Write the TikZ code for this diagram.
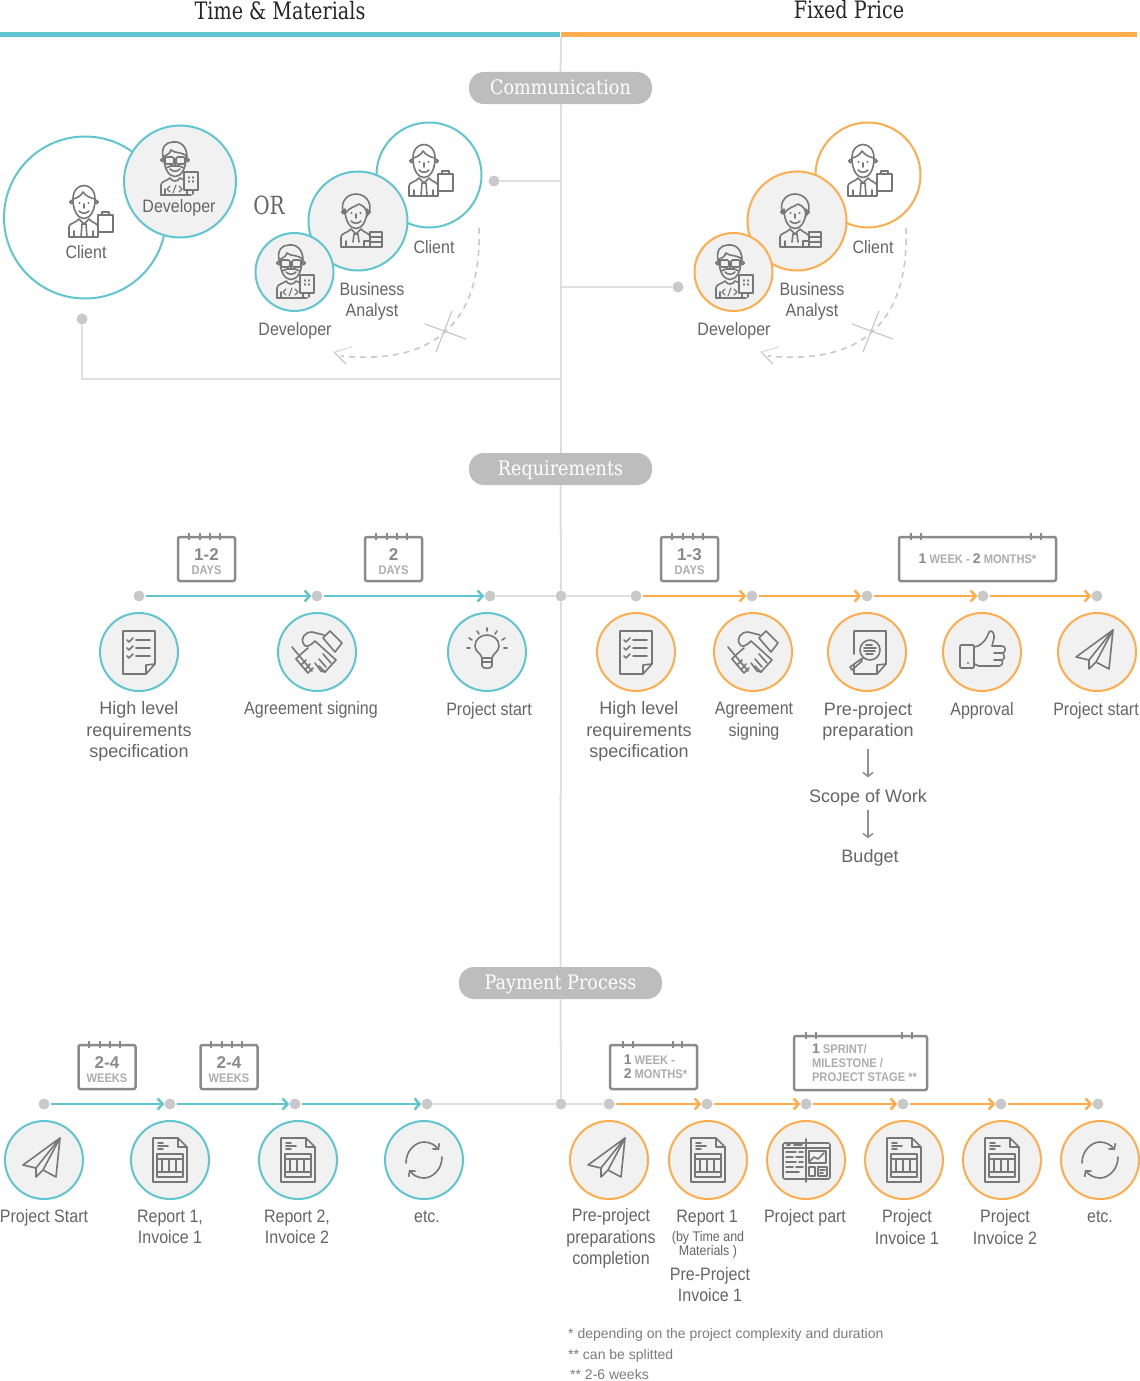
\documentclass[tikz,border=0pt]{standalone}
\usepackage{fontspec}
\setmainfont{Liberation Sans}
\newfontfamily\tightfont[FakeStretch=.89]{Liberation Sans}
\newfontfamily\slabfont[FakeStretch=.8]{DejaVu Serif}
\newfontfamily\pillfont[FakeStretch=.88]{DejaVu Serif}
\usetikzlibrary{arrows.meta, positioning, calc}

\definecolor{tealc}{HTML}{5FC5D0}
\definecolor{orangec}{HTML}{FFAC4D}
\definecolor{railgray}{HTML}{DEDEDE}
\definecolor{dotgray}{HTML}{C9C9C9}
\definecolor{pillgray}{HTML}{BDBDBD}
\definecolor{fillgray}{HTML}{F1F1F1}
\definecolor{txtgray}{HTML}{656565}
\definecolor{icongray}{HTML}{777777}
\definecolor{calgray}{HTML}{8A8A8A}
\definecolor{callight}{HTML}{ADADAD}

\tikzset{
    lbl/.style = {align=center, inner sep=0, yshift=-1.5pt, text=txtgray, font=\fontsize{18}{21.5}\selectfont},
    lbltight/.style = {lbl, font=\tightfont\fontsize{18}{21.5}\selectfont},
    smalltxt/.style = {lbl, font=\tightfont\fontsize{14}{14}\selectfont},
    note/.style = {anchor=west, inner sep=0, yshift=-1.5pt, text=txtgray!85, font=\fontsize{14}{16}\selectfont},
    heading/.style = {inner sep=0, text=black!85, font=\slabfont\fontsize{24}{24}\selectfont},
    pill/.style = {rounded corners=15pt, fill=pillgray, text=white, minimum height=32, inner sep=0,
        text height=16pt, text depth=3pt, font=\pillfont\fontsize{20}{20}\selectfont},
    dot/.style = {circle, fill=dotgray, inner sep=0, minimum size=11},
    rail/.style = {draw=railgray, line width=2pt},
    tealflow/.style = {draw=tealc, line width=2.5pt, shorten <=1pt, -{Straight Barb[length=5pt,width=11pt]}},
    orangeflow/.style = {draw=orangec, line width=2.5pt, shorten <=1pt, -{Straight Barb[length=5pt,width=11pt]}},
    downstep/.style = {draw=icongray!80, line width=1.6pt, -{Straight Barb[length=4pt,width=10pt]}},
    tcirc/.style = {circle, draw=tealc, line width=2pt, fill=fillgray, inner sep=0, minimum size=78},
    ocirc/.style = {circle, draw=orangec, line width=2pt, fill=fillgray, inner sep=0, minimum size=78},
    calbox/.style = {draw=calgray, line width=2.5pt, rounded corners=2pt, fill=white, inner sep=0,
        align=center, minimum width=57, minimum height=44, text=callight,
        font=\tightfont\bfseries\fontsize{12.5}{14}\selectfont},
    calring/.style = {draw=calgray, line width=2pt},
    iconline/.style = {draw=icongray, line width=1.6pt, line join=round, line cap=round},
    pics/faceline/.style = {code={
        \draw[iconline] (-11,-12) .. controls (-11,14) and (11,14) .. (11,-12);
        \draw[iconline] (-12.5,-9) circle (1.8) (12.5,-9) circle (1.8);
        \draw[iconline] (-5,0) .. controls (-2,3) and (2,3) .. (5,0);
        \draw[iconline] (0,-7) -- (0,-3);
    }},
    pics/torso/.style = {code={
        \draw[iconline] (-15,26) -- (-15,16) .. controls (-15,12) and (-8,12) .. (-5,8)
            -- (0,13) -- (5,8) .. controls (8,12) and (14,12) .. (14,16) -- (14,26) -- cycle;
        \draw[iconline] (-10,20) -- (-10,26) (9,20) -- (9,26);
    }},
    pics/clienticon/.style = {code={
        \pic {faceline};
        \pic {torso};
        \draw[iconline] (-11,-12) .. controls (-11,-30) and (11,-30) .. (11,-12)
            .. controls (6,-13) and (2,-15) .. (-1,-19) .. controls (-3,-15) and (-7,-13) .. (-11,-12);
        \fill[icongray] (-4.5,-8) circle (1.2) (4.5,-8) circle (1.2);
        \draw[iconline] (-2,13) -- (2,13) -- (3,26) (-3,26) -- (-2,13);
        \draw[iconline, fill=white] (14,4) rectangle (29,21);
        \draw[iconline] (18,4) -- (18,1) -- (25,1) -- (25,4);
    }},
    pics/devicon/.style = {code={
        \pic {faceline};
        \draw[iconline] (-14,26) -- (-14,16) .. controls (-14,12) and (-8,12) .. (-5,9)
            .. controls (-3,13) and (3,13) .. (5,9) .. controls (7,10) and (8,10) .. (9,11);
        \draw[iconline] (-14,26) -- (16,26) (-10,20) -- (-10,26);
        \draw[iconline] (-12,-12) .. controls (-14,-22) and (-9,-27) .. (-2,-27)
            .. controls (6,-28) and (12,-22) .. (12,-12) .. controls (8,-18) and (0,-15) .. (-4,-19)
            .. controls (-5,-15) and (-9,-14) .. (-12,-12);
        \draw[iconline, rounded corners=1.5pt] (-10,-12) rectangle (-1,-5) (1,-12) rectangle (10,-5);
        \draw[iconline] (-9,-1) -- (-4,-3) -- (4,-3) -- (9,-1);
        \draw[iconline, fill=fillgray] (9,3) rectangle (23,21);
        \draw[iconline] (12,21) -- (12,25) (18,21) -- (18,25) (14,8) -- (14,9) (18,8) -- (18,9) (14,12) -- (14,13) (18,12) -- (18,13);
        \draw[iconline, line width=1.1pt] (-5,17) -- (-8,20) -- (-5,23) (4,17) -- (7,20) -- (4,23) (-2,24) -- (1,16);
    }},
    pics/analysticon/.style = {code={
        \pic {faceline};
        \pic {torso};
        \draw[iconline] (-11,-7) .. controls (-17,-14) and (-12,-27) .. (0,-27)
            .. controls (12,-27) and (18,-14) .. (11,-5) .. controls (11,-12) and (8,-15) .. (3,-17)
            .. controls (-1,-14) and (-7,-14) .. (-11,-7);
        \fill[icongray] (-4.5,-8) circle (1.2) (4.5,-8) circle (1.2);
        \draw[iconline] (-2,13) -- (2,13) -- (3,21) (-3,21) -- (-2,13);
        \draw[iconline, fill=fillgray] (8,20) rectangle (14,26);
        \draw[iconline, fill=fillgray] (14,11) rectangle (26,26);
        \draw[iconline] (14,16) -- (26,16) (14,21) -- (26,21);
    }},
    pics/checkicon/.style = {code={
        \draw[iconline] (16,12) -- (16,-21) -- (-16,-21) -- (-16,22) -- (7,22) -- (16,12) -- (7,13) -- (7,22);
        \draw[iconline] (-12,-12) -- (-10,-10) -- (-6,-14) (-3,-12) -- (11,-12);
        \draw[iconline] (-12,-4) -- (-10,-2) -- (-6,-6) (-3,-4) -- (11,-4);
        \draw[iconline] (-12,4) -- (-10,6) -- (-6,2) (-3,4) -- (11,4);
    }},
    pics/shakeicon/.style = {code={
        \draw[iconline] (-25,-5) -- (-5,19);
        \draw[iconline] (13,-21) -- (25,-9) -- (18,0) -- (6,-14) -- cycle;
        \draw[iconline] (7,-17) -- (-5,-20) .. controls (-13,-20) and (-16,-13) .. (-14,-9)
            .. controls (-12,-4) and (-8,-5) .. (-2,-11) -- (19,8) -- (8,20) -- (2,14);
        \draw[iconline] (-21,7) -- (-16,2) -- (-9,-4);
        \draw[iconline] (-21,7) -- (-9,21) -- (-4,16);
        \draw[iconline] (-16,13) -- (-11,8) (-12,18) -- (-7,12);
        \draw[iconline] (6,2) -- (14,11) (2,7) -- (9,15) (-2,11) -- (4,19) -- (8,20);
    }},
    pics/bulbicon/.style = {code={
        \draw[iconline] (-5,6) .. controls (-6,1) and (-12,0) .. (-12,-6) .. controls (-12,-13) and (-6,-17) .. (0,-17)
            .. controls (6,-17) and (12,-13) .. (12,-6) .. controls (12,0) and (6,1) .. (5,6) -- cycle;
        \draw[iconline] (-5,6) -- (-5,14) .. controls (-5,17) and (5,17) .. (5,14) -- (5,6) (-5,10) -- (5,10);
        \draw[iconline] (0,-24) -- (0,-21) (-10,-21) -- (-8,-18) (10,-21) -- (8,-18)
            (-18,-14) -- (-15,-12) (18,-14) -- (15,-12) (-20,-4) -- (-17,-4) (20,-4) -- (17,-4);
    }},
    pics/planeicon/.style = {code={
        \draw[iconline] (16,-22) -- (-21,5) -- (-8,8) -- cycle;
        \draw[iconline] (-8,8) -- (-8,17) -- (-1,10) -- (12,17) -- (16,-22) -- (-1,10);
    }},
    pics/reporticon/.style = {code={
        \draw[iconline] (8,-22) -- (-17,-22) -- (-17,22) -- (17,22) -- (17,-13) -- (8,-22) -- (8,-13) -- (17,-13);
        \draw[iconline] (-12,-17) -- (-7,-17) (-12,-14) -- (-2,-14) (-12,-11) -- (-7,-11);
        \draw[iconline] (-13,-6) rectangle (13,17);
        \draw[iconline] (-13,-1) -- (13,-1) (-13,12) -- (13,12) (-8,-1) -- (-8,12) (-1,-1) -- (-1,12) (6,-1) -- (6,12);
    }},
    pics/webicon/.style = {code={
        \draw[iconline, rounded corners=2pt] (-23,-17) rectangle (24,19);
        \draw[iconline] (-23,-12) -- (24,-12) (0,-21) -- (0,22);
        \draw[iconline] (-19,-15) -- (-16,-15) (-12,-15) -- (-4,-15);
        \draw[iconline] (-20,-8) -- (-10,-8) (-7,-8) -- (-3,-8) (-20,-3) -- (-13,-3) (-10,-3) -- (-3,-3)
            (-20,2) -- (-10,2) (-7,2) -- (-3,2) (-20,7) -- (-13,7) (-10,7) -- (-3,7) (-20,12) -- (-7,12);
        \draw[iconline] (3,-9) rectangle (20,3);
        \draw[iconline] (4,1) -- (8,-3) -- (12,-1) -- (18,-7);
        \draw[iconline] (3,7) rectangle (9,16) (12,7) rectangle (21,16) (14,10) -- (19,10) (14,13) -- (17,13);
    }},
    pics/lensicon/.style = {code={
        \draw[iconline] (-13,2) -- (-13,-21) -- (19,-21) -- (19,12) -- (10,22) -- (-13,22) -- (-13,13);
        \draw[iconline] (19,12) -- (10,13) -- (10,22);
        \draw[iconline, fill=fillgray] (3,-2) circle (10);
        \draw[iconline] (-3,-4) -- (9,-4) (-3,-1) -- (8,-1) (-1,2) -- (6,2) (-1,-7) -- (5,-7);
        \draw[iconline] (-4,6) -- (-6,8) (-6,7) -- (-17,15) -- (-15,18) -- (-5,9);
    }},
    pics/thumbicon/.style = {code={
        \draw[iconline, rounded corners=1pt] (-22,-7) rectangle (-8,16);
        \fill[icongray] (-14,11) circle (1.1);
        \draw[iconline] (-8,-5) -- (-4,-6) .. controls (2,-9) and (5,-14) .. (7,-20) .. controls (9,-23) and (13,-19) .. (12,-14)
            -- (10,-6) -- (20,-6) .. controls (24,-6) and (24,0) .. (21,1) .. controls (23,3) and (23,7) .. (20,8)
            .. controls (21,11) and (20,14) .. (17,14) -- (-3,14) -- (-8,12);
        \draw[iconline] (12,1) -- (21,1) (12,8) -- (20,8);
    }},
    pics/cycleicon/.style = {code={
        \draw[iconline, -{Straight Barb[length=4pt,width=9pt]}] (-18,3) .. controls (-18,-10) and (-8,-18) .. (0,-18) .. controls (6,-18) and (11,-15) .. (15,-10);
        \draw[iconline, -{Straight Barb[length=4pt,width=9pt]}] (18,-3) .. controls (18,10) and (8,18) .. (0,18) .. controls (-6,18) and (-11,15) .. (-15,10);
    }},
    pics/droppedlink/.style = {code={
        \draw[draw=dotgray, line width=1.6pt, dash pattern=on 6pt off 5pt] (0,0) .. controls (2,60) and (-15,140) .. (-138,128);
        \draw[draw=dotgray, line width=1.2pt] (-27,83) -- (-43,124) (-54,96) -- (-13,111);
        \draw[draw=dotgray, line width=1.4pt, dash pattern=on 1pt off 1pt] (-145,124) -- (-127,119);
        \draw[draw=dotgray, line width=1.4pt] (-145,124) -- (-133,136);
    }},
}

\newcommand{\calrings}[5]{
    \draw[calring] ([xshift=#2pt,yshift=3pt]#1.north west) -- ++(0,7);
    \draw[calring] ([xshift=#3pt,yshift=3pt]#1.north west) -- ++(0,7);
    \draw[calring] ([xshift=#4pt,yshift=3pt]#1.north west) -- ++(0,7);
    \draw[calring] ([xshift=#5pt,yshift=3pt]#1.north west) -- ++(0,7);
}
\newcommand{\calnum}[1]{\rule{0pt}{18pt}{\color{calgray}\normalfont\bfseries\fontsize{17}{17}\selectfont #1}}
\newcommand{\calsmall}[1]{{\color{calgray}\normalfont\bfseries\fontsize{14}{14}\selectfont #1}}

\begin{document}
\begin{tikzpicture}[x=1pt, y=-1pt]
    \useasboundingbox (0,0) rectangle (1140,1381);

    \node[heading] (titletm) at (280,11) {Time \& Materials};
    \node[heading] (titlefp) at (849,10) {Fixed Price};

    \coordinate (barleft) at (0,34.5);
    \coordinate (barmid) at (559.5,34.5);
    \coordinate (barmidb) at (561,34.5);
    \coordinate (barright) at (1137,34.5);
    \coordinate (trunktop) at (561,37);
    \draw[tealc, line width=5pt] (barleft) -- (barmid);
    \draw[orangec, line width=5pt] (barmidb) -- (barright);

    \node[pill, minimum width=183] (pillcomm) at (560.5,88) {Communication};
    \node[pill, minimum width=183] (pillreq) at (560.5,469) {Requirements};
    \node[pill, minimum width=203] (pillpay) at (560.5,983) {Payment Process};

    \node[dot] (hubreq) at (561,596) {};
    \node[dot] (hubpay) at (561,1104) {};
    \draw[rail] (trunktop) -- (pillcomm);
    \draw[rail] (pillcomm) -- (pillreq);
    \draw[rail] (pillreq) -- (hubreq);
    \draw[rail] (hubreq) -- (pillpay);
    \draw[rail] (pillpay) -- (hubpay);

    % communication, left side
    \node[circle, draw=tealc, line width=2pt, fill=white, inner sep=0, minimum size=162] (tmclient) at (85,217.5) {};
    \node[circle, draw=tealc, line width=2pt, fill=fillgray, inner sep=0, minimum size=112] (tmdev) at (180,181.5) {};
    \node[circle, draw=tealc, line width=2pt, fill=white, inner sep=0, minimum size=105] (tmclientb) at (429,175) {};
    \node[circle, draw=tealc, line width=2pt, fill=fillgray, inner sep=0, minimum size=99] (tmba) at (358,221) {};
    \node[circle, draw=tealc, line width=2pt, fill=fillgray, inner sep=0, minimum size=78] (tmdevb) at (294.5,272) {};
    \pic at (84,211) {clienticon};
    \pic at (175,169) {devicon};
    \pic at (424,170) {clienticon};
    \pic at (356,221) {analysticon};
    \pic at (291,272) {devicon};
    \pic at (479,228) {droppedlink};

    \node[lbltight] (lblclient) at (86,250.5) {Client};
    \node[lbltight] (lbldev) at (179,206) {Developer};
    \node[inner sep=0, text=txtgray, font=\slabfont\fontsize{25}{25}\selectfont] (lblor) at (269,205) {OR};
    \node[lbltight] (lblclientb) at (434,245.5) {Client};
    \node[lbltight] (lblba) at (372,300) {Business\\Analyst};
    \node[lbltight] (lbldevb) at (295,329) {Developer};

    \node[dot] (dotclient) at (82,319) {};
    \node[dot] (dotteam) at (494,181) {};
    \coordinate (elbowclient) at (561,379);
    \coordinate (elbowteam) at (561,181);
    \draw[rail] (dotclient) |- (elbowclient);
    \draw[rail] (dotteam) -- (elbowteam);

    % communication, right side
    \node[circle, draw=orangec, line width=2pt, fill=white, inner sep=0, minimum size=105] (fpclient) at (868,175) {};
    \node[circle, draw=orangec, line width=2pt, fill=fillgray, inner sep=0, minimum size=99] (fpba) at (797,221) {};
    \node[circle, draw=orangec, line width=2pt, fill=fillgray, inner sep=0, minimum size=78] (fpdev) at (733.5,272) {};
    \pic at (863,170) {clienticon};
    \pic at (795,221) {analysticon};
    \pic at (730,272) {devicon};
    \pic at (906,228) {droppedlink};

    \node[lbltight] (lblclientc) at (873,245.5) {Client};
    \node[lbltight] (lblbab) at (812,300) {Business\\Analyst};
    \node[lbltight] (lbldevc) at (734,329) {Developer};

    \node[dot] (dotfp) at (678,287) {};
    \coordinate (elbowfp) at (561,287);
    \draw[rail] (dotfp) -- (elbowfp);

    % requirements, left side
    \node[dot] (reqa) at (139,596) {};
    \node[dot] (reqb) at (317,596) {};
    \node[dot] (reqc) at (490,596) {};
    \draw[tealflow] (reqa) -- (reqb);
    \draw[tealflow] (reqb) -- (reqc);
    \draw[rail] (reqc) -- (hubreq);

    \node[calbox] (calreqa) at (206.5,559) {\calnum{1-2}\\DAYS};
    \node[calbox] (calreqb) at (393.5,559) {\calnum{2}\\DAYS};
    \calrings{calreqa}{12}{23}{33}{43}
    \calrings{calreqb}{12}{23}{33}{43}

    \node[tcirc] (cirreqa) at (139,652) {};
    \node[tcirc] (cirreqb) at (317,652) {};
    \node[tcirc] (cirreqc) at (487,652) {};
    \pic at (139,652) {checkicon};
    \pic at (317,652) {shakeicon};
    \pic at (487,652) {bulbicon};

    \node[lbl] (lblhla) at (139,730) {High level\\requirements\\specification};
    \node[lbltight] (lblagra) at (311,708) {Agreement signing};
    \node[lbltight] (lblstarta) at (489,709) {Project start};

    % requirements, right side
    \node[dot] (reqd) at (636,596) {};
    \node[dot] (reqe) at (752,596) {};
    \node[dot] (reqf) at (867,596) {};
    \node[dot] (reqg) at (983,596) {};
    \node[dot] (reqh) at (1097,596) {};
    \draw[rail] (hubreq) -- (reqd);
    \draw[orangeflow] (reqd) -- (reqe);
    \draw[orangeflow] (reqe) -- (reqf);
    \draw[orangeflow] (reqf) -- (reqg);
    \draw[orangeflow] (reqg) -- (reqh);

    \node[calbox] (calreqc) at (689.5,559) {\calnum{1-3}\\DAYS};
    \node[calbox, minimum width=157] (calreqd) at (977.5,559) {\calsmall{1} WEEK - \calsmall{2} MONTHS*};
    \calrings{calreqc}{12}{23}{33}{43}
    \calrings{calreqd}{13}{23}{133}{143}

    \node[ocirc] (cirreqd) at (636,652) {};
    \node[ocirc] (cirreqe) at (753,652) {};
    \node[ocirc] (cirreqf) at (867,652) {};
    \node[ocirc] (cirreqg) at (982,652) {};
    \node[ocirc] (cirreqh) at (1097,652) {};
    \pic at (636,652) {checkicon};
    \pic at (753,652) {shakeicon};
    \pic at (867,652) {lensicon};
    \pic at (982,652) {thumbicon};
    \pic at (1097,652) {planeicon};

    \node[lbl] (lblhlb) at (639,730) {High level\\requirements\\specification};
    \node[lbltight] (lblagrb) at (754,719.5) {Agreement\\signing};
    \node[lbl] (lblprep) at (868,720) {Pre-project\\preparation};
    \node[lbltight] (lblappr) at (982,709) {Approval};
    \node[lbltight] (lblstartb) at (1096,709) {Project start};
    \node[lbl] (lblscope) at (868,796) {Scope of Work};
    \node[lbl] (lblbudget) at (870,856) {Budget};
    \draw[downstep, shorten <=8.5pt, shorten >=11.5pt] (lblprep) -- (lblscope);
    \draw[downstep, shorten <=3.5pt, shorten >=10.5pt] (lblscope) -- (lblscope |- lblbudget.north);

    % payment, left side
    \node[dot] (paya) at (44,1104) {};
    \node[dot] (payb) at (170,1104) {};
    \node[dot] (payc) at (295,1104) {};
    \node[dot] (payd) at (427,1104) {};
    \draw[tealflow] (paya) -- (payb);
    \draw[tealflow] (payb) -- (payc);
    \draw[tealflow] (payc) -- (payd);
    \draw[rail] (payd) -- (hubpay);

    \node[calbox] (calpaya) at (107,1067) {\calnum{2-4}\\WEEKS};
    \node[calbox] (calpayb) at (229,1067) {\calnum{2-4}\\WEEKS};
    \calrings{calpaya}{12}{23}{33}{43}
    \calrings{calpayb}{12}{23}{33}{43}

    \node[tcirc] (cirpaya) at (44,1160) {};
    \node[tcirc] (cirpayb) at (170,1160) {};
    \node[tcirc] (cirpayc) at (298,1160) {};
    \node[tcirc] (cirpayd) at (424,1160) {};
    \pic at (44,1160) {planeicon};
    \pic at (170,1160) {reporticon};
    \pic at (298,1160) {reporticon};
    \pic at (424,1160) {cycleicon};

    \node[lbltight] (lblpstart) at (44,1216) {Project Start};
    \node[lbltight] (lblrepa) at (170,1225.5) {Report 1,\\Invoice 1};
    \node[lbltight] (lblrepb) at (297,1225.5) {Report 2,\\Invoice 2};
    \node[lbltight] (lbletca) at (427,1215) {etc.};

    % payment, right side
    \node[dot] (paye) at (609,1104) {};
    \node[dot] (payf) at (707,1104) {};
    \node[dot] (payg) at (806,1104) {};
    \node[dot] (payh) at (903,1104) {};
    \node[dot] (payi) at (1001,1104) {};
    \node[dot] (payj) at (1098,1104) {};
    \draw[rail] (hubpay) -- (paye);
    \draw[orangeflow] (paye) -- (payf);
    \draw[orangeflow] (payf) -- (payg);
    \draw[orangeflow] (payg) -- (payh);
    \draw[orangeflow] (payh) -- (payi);
    \draw[orangeflow] (payi) -- (payj);

    \node[calbox, minimum width=87, align=left] (calpayc) at (653.5,1067) {\hspace*{4pt}\calsmall{1} WEEK -\\\hspace*{4pt}\calsmall{2} MONTHS*};
    \node[calbox, minimum width=133, minimum height=54, align=left] (calpayd) at (860.5,1063) {\hspace*{8pt}\calsmall{1} SPRINT/\\\hspace*{8pt}MILESTONE /\\\hspace*{8pt}PROJECT STAGE **};
    \calrings{calpayc}{14}{24}{64}{73}
    \calrings{calpayd}{13}{23}{109}{119}

    \node[ocirc] (cirpaye) at (609,1160) {};
    \node[ocirc] (cirpayf) at (708,1160) {};
    \node[ocirc] (cirpayg) at (806,1160) {};
    \node[ocirc] (cirpayh) at (904,1160) {};
    \node[ocirc] (cirpayi) at (1002,1160) {};
    \node[ocirc] (cirpayj) at (1100,1160) {};
    \pic at (609,1160) {planeicon};
    \pic at (708,1160) {reporticon};
    \pic at (806,1160) {webicon};
    \pic at (904,1160) {reporticon};
    \pic at (1002,1160) {reporticon};
    \pic at (1100,1160) {cycleicon};

    \node[lbltight] (lblprec) at (611,1237) {Pre-project\\preparations\\completion};
    \node[lbltight] (lblrepc) at (707,1216.5) {Report 1};
    \node[smalltxt] (lblby) at (708,1243) {(by Time and\\Materials )};
    \node[lbltight] (lblinva) at (710,1283) {Pre-Project\\Invoice 1};
    \node[lbltight] (lblpart) at (805,1216) {Project part};
    \node[lbltight] (lblinvb) at (907,1225.5) {Project\\Invoice 1};
    \node[lbltight] (lblinvc) at (1005,1225.5) {Project\\Invoice 2};
    \node[lbltight] (lbletcb) at (1100,1215) {etc.};

    \node[note] (notea) at (568,1333) {* depending on the project complexity and duration};
    \node[note] (noteb) at (568,1354) {** can be splitted};
    \node[note] (notec) at (570,1373) {** 2-6 weeks};
\end{tikzpicture}
\end{document}
